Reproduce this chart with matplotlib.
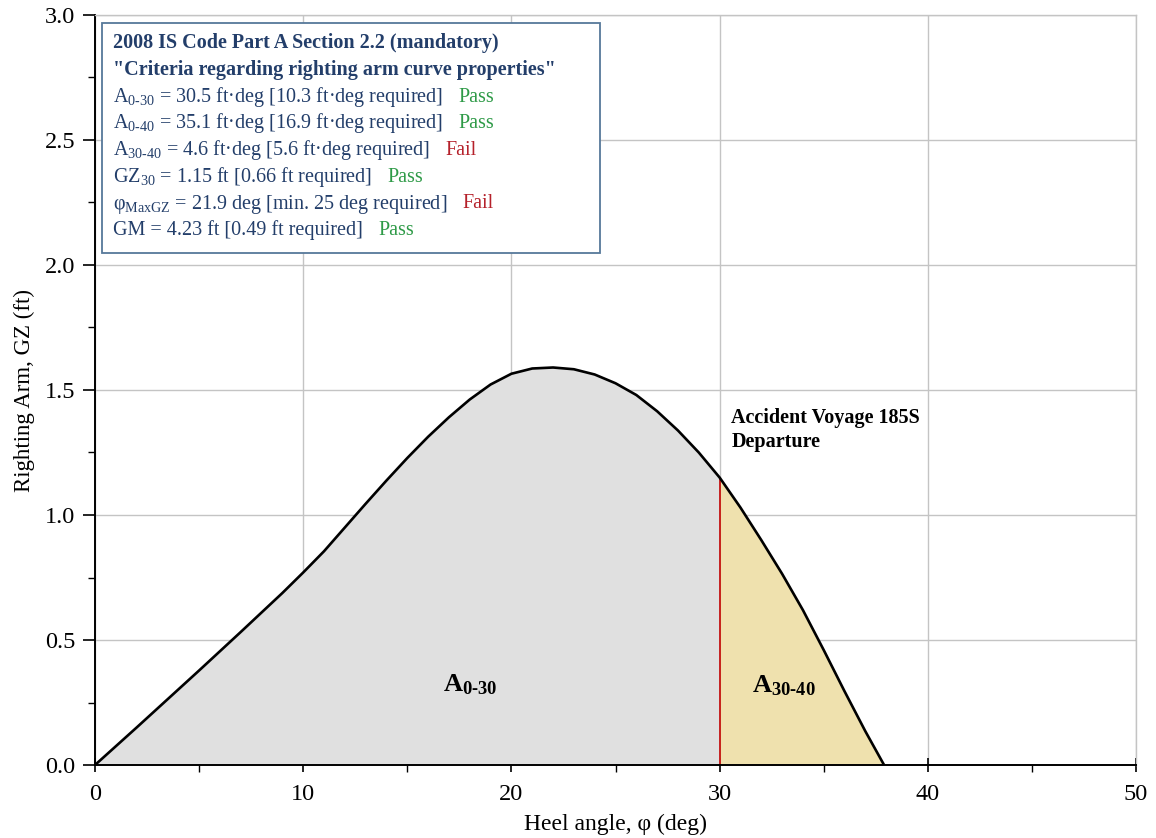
import numpy as np
import matplotlib.pyplot as plt
from matplotlib.patches import Rectangle
from matplotlib.ticker import MultipleLocator

plt.rcParams['font.family'] = ['Liberation Serif', 'DejaVu Serif']
plt.rcParams['mathtext.fontset'] = 'custom'
plt.rcParams['mathtext.rm'] = 'Liberation Serif'
plt.rcParams['mathtext.it'] = 'Liberation Serif:italic'
plt.rcParams['mathtext.bf'] = 'Liberation Serif:bold'

# righting arm curve, GZ (ft) vs heel angle (deg)
heel = [0, 1, 2, 3, 4, 5, 6, 7, 8, 9, 10, 11, 12, 13, 14, 15, 16, 17, 18, 19,
        20, 21, 22, 23, 24, 25, 26, 27, 28, 29, 30, 31, 32, 33, 34, 35, 36,
        37, 37.9]
gz = [0, 0.075, 0.15, 0.226, 0.302, 0.378, 0.455, 0.532, 0.61, 0.688, 0.77,
      0.855, 0.95, 1.045, 1.138, 1.228, 1.313, 1.391, 1.462, 1.522, 1.565,
      1.586, 1.59, 1.583, 1.562, 1.527, 1.48, 1.415, 1.338, 1.25, 1.15, 1.03,
      0.9, 0.765, 0.62, 0.46, 0.295, 0.135, 0]

box_title = ['2008 IS Code Part A Section 2.2 (mandatory)',
             '"Criteria regarding righting arm curve properties"']
criteria = [
    r'$\mathregular{A_{0‐30}}$ = 30.5 ft·deg [10.3 ft·deg required]',
    r'$\mathregular{A_{0‐40}}$ = 35.1 ft·deg [16.9 ft·deg required]',
    r'$\mathregular{A_{30‐40}}$ = 4.6 ft·deg [5.6 ft·deg required]',
    r'$\mathregular{GZ_{30}}$ = 1.15 ft [0.66 ft required]',
    r'$\mathregular{φ_{MaxGZ}}$ = 21.9 deg [min. 25 deg required]',
    r'GM = 4.23 ft [0.49 ft required]',
]
verdicts = ['Pass', 'Pass', 'Fail', 'Pass', 'Fail', 'Pass']

navy = '#233e6a'
verdict_colors = {'Pass': '#2e9a47', 'Fail': '#b5212b'}

heel = np.array(heel)
gz = np.array(gz)

fig = plt.figure(figsize=(11.56, 8.38), dpi=100)
ax = fig.add_axes([95 / 1156, 73 / 838, 1041 / 1156, 750 / 838])

# shaded areas under the curve
m1 = heel <= 30
m2 = heel >= 30
ax.fill_between(heel[m1], gz[m1], color='#e0e0e0', lw=0, zorder=1)
ax.fill_between(heel[m2], gz[m2], color='#efe1ae', lw=0, zorder=1)
ax.plot([30, 30], [0, gz[heel == 30][0]], color='#c00000', lw=1.2, zorder=2)
ax.plot(heel, gz, color='black', lw=1.9, zorder=3, solid_capstyle='round',
        solid_joinstyle='round')

ax.set_xlim(0, 50)
ax.set_ylim(0, 3.0)
ax.xaxis.set_major_locator(MultipleLocator(10))
ax.xaxis.set_minor_locator(MultipleLocator(5))
ax.yaxis.set_major_locator(MultipleLocator(0.5))
ax.yaxis.set_minor_locator(MultipleLocator(0.25))
ax.yaxis.set_major_formatter(plt.FormatStrFormatter('%.1f'))
ax.grid(True, which='major', color='#c4c4c4', lw=1.0, zorder=0)
ax.set_axisbelow(True)
ax.tick_params(axis='x', which='major', direction='inout', length=10, width=1.2,
               labelsize=17.5, pad=9)
ax.tick_params(axis='y', which='major', direction='out', length=9, width=1.2,
               labelsize=17.5, pad=5)
ax.tick_params(which='minor', direction='out', length=5, width=1.0)
for s in ['left', 'bottom']:
    ax.spines[s].set_linewidth(1.4)
for s in ['top', 'right']:
    ax.spines[s].set_color('#c4c4c4')
    ax.spines[s].set_linewidth(1.0)

ax.set_xlabel('Heel angle, φ (deg)', fontsize=17, labelpad=6)
ax.set_ylabel('Righting Arm, GZ (ft)', fontsize=16.5, labelpad=7)

# criteria box
ax.add_patch(Rectangle((0.0064, 0.683), 0.4787, 0.306, transform=ax.transAxes,
                       facecolor='white', edgecolor='#56789a', lw=1.3, zorder=4))
y0 = 0.9556
dy = 0.0356
for i, line in enumerate(box_title):
    ax.text(0.0176, y0 - i * dy, line, transform=ax.transAxes, fontsize=14.5,
            fontweight='bold', color=navy, va='baseline', zorder=5)
for i, (line, v) in enumerate(zip(criteria, verdicts)):
    yy = y0 - (i + 2) * dy
    t = ax.text(0.0176, yy, line, transform=ax.transAxes, fontsize=14.5,
                color=navy, va='baseline', zorder=5)
    ax.annotate(v, xy=(1, yy), xycoords=(t, 'axes fraction'), xytext=(11, 0),
                textcoords='offset points', fontsize=14.5, va='baseline',
                color=verdict_colors[v], zorder=5)

ax.text(30.57, 1.43, 'Accident Voyage 185S\nDeparture', fontsize=14.5,
        fontweight='bold', va='top', ha='left', linespacing=1.3, zorder=5)
ax.text(16.72, 0.293, r'$\mathbf{A_{0‐30}}$', fontsize=19, va='baseline', zorder=5)
ax.text(31.57, 0.29, r'$\mathbf{A_{30‐40}}$', fontsize=19, va='baseline', zorder=5)

fig.savefig('out.png', dpi=100)
